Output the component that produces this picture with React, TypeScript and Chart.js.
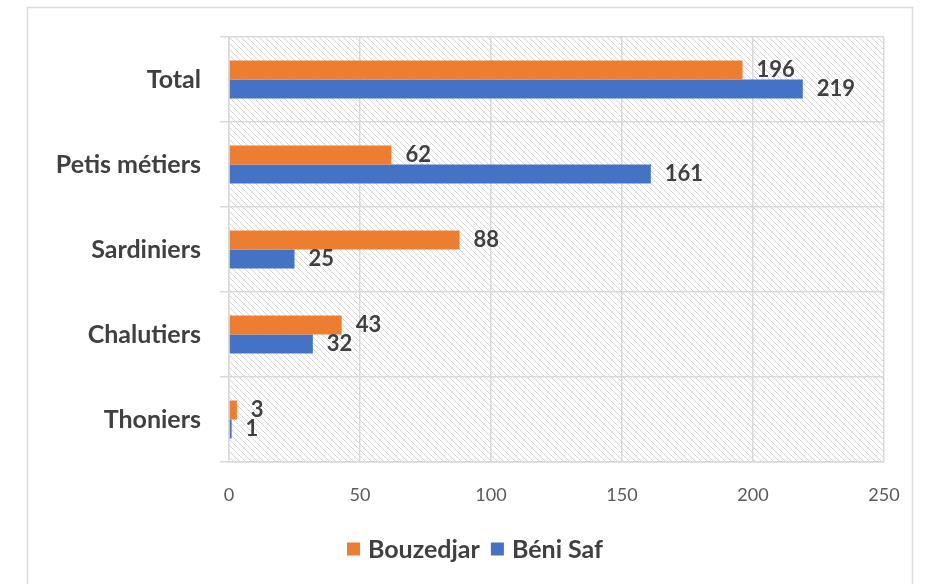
import React, { useEffect, useRef } from "react";
import { Chart, registerables } from "chart.js";
Chart.register(...registerables);

const categories = ["Total", "Petis métiers", "Sardiniers", "Chalutiers", "Thoniers"];
const seriesNames = ["Bouzedjar", "Béni Saf"];
const bouzedjar = [196, 62, 88, 43, 3];
const beniSaf = [219, 161, 25, 32, 1];
const xMin = 0;
const xMax = 250;
const xStep = 50;

const ORANGE = "#ED7D31";
const BLUE = "#4472C4";
const GRID = "#d9d9d9";
const FONT = "Lato, 'Open Sans', sans-serif";

function makePattern(ctx: CanvasRenderingContext2D) {
  const c = document.createElement("canvas");
  c.width = 6;
  c.height = 6;
  const p = c.getContext("2d")!;
  p.fillStyle = "#ffffff";
  p.fillRect(0, 0, 6, 6);
  p.strokeStyle = "#d6d6d6";
  p.lineWidth = 1;
  p.beginPath();
  p.moveTo(-1, -1);
  p.lineTo(7, 7);
  p.moveTo(-1, 5);
  p.lineTo(1, 7);
  p.moveTo(5, -1);
  p.lineTo(7, 1);
  p.stroke();
  return ctx.createPattern(c, "repeat")!;
}

const hatchPlugin = {
  id: "hatch",
  beforeDraw(chart: any) {
    const { ctx, chartArea } = chart;
    ctx.save();
    ctx.strokeStyle = "#dcdcdc";
    ctx.lineWidth = 1.5;
    ctx.strokeRect(27.5, 7.5, 885, 600);
    ctx.fillStyle = makePattern(ctx);
    ctx.fillRect(chartArea.left, chartArea.top, chartArea.right - chartArea.left, chartArea.bottom - chartArea.top);
    ctx.restore();
  },
};

const labelPlugin = {
  id: "valueLabels",
  afterDatasetsDraw(chart: any) {
    const { ctx } = chart;
    ctx.save();
    ctx.font = `bold 22px ${FONT}`;
    ctx.fillStyle = "#404040";
    ctx.textAlign = "left";
    ctx.textBaseline = "middle";
    chart.data.datasets.forEach((ds: any, di: number) => {
      const meta = chart.getDatasetMeta(di);
      meta.data.forEach((el: any, i: number) => {
        ctx.fillText(String(ds.data[i]), el.x + 14, el.y);
      });
    });
    ctx.restore();
  },
};

const legendPlugin = {
  id: "customLegend",
  afterDraw(chart: any) {
    const { ctx } = chart;
    ctx.save();
    ctx.font = `bold 25px ${FONT}`;
    ctx.textBaseline = "middle";
    ctx.textAlign = "left";
    const box = 13;
    const gap = 8;
    const itemGap = 11;
    const items = chart.data.datasets.map((ds: any) => ({
      label: ds.label,
      color: ds.backgroundColor,
      w: box + gap + ctx.measureText(ds.label).width,
    }));
    const total = items.reduce((s: number, it: any) => s + it.w, 0) + itemGap * (items.length - 1);
    let x = 475 - total / 2;
    const y = 549;
    items.forEach((it: any) => {
      ctx.fillStyle = it.color;
      ctx.fillRect(x, y - box / 2, box, box);
      ctx.fillStyle = "#404040";
      ctx.fillText(it.label, x + box + gap, y + 1);
      x += it.w + itemGap;
    });
    ctx.restore();
  },
};

export default function App() {
  const ref = useRef<HTMLCanvasElement>(null);
  useEffect(() => {
    const chart = new Chart(ref.current!, {
      type: "bar",
      data: {
        labels: categories,
        datasets: [
          { label: seriesNames[0], data: bouzedjar, backgroundColor: ORANGE, categoryPercentage: 0.447, barPercentage: 1 },
          { label: seriesNames[1], data: beniSaf, backgroundColor: BLUE, categoryPercentage: 0.447, barPercentage: 1 },
        ],
      },
      options: {
        indexAxis: "y",
        responsive: false,
        animation: false,
        layout: { padding: { top: 37, right: 47, left: 0, bottom: 0 } },
        plugins: { legend: { display: false }, tooltip: { enabled: false } },
        scales: {
          x: {
            min: xMin,
            max: xMax,
            ticks: { stepSize: xStep, color: "#595959", font: { family: FONT, size: 18 }, padding: 22 },
            grid: { color: GRID, lineWidth: 1.5, drawTicks: false },
            border: { color: GRID, width: 1.5 },
            afterFit: (s: any) => {
              s.height = 122;
            },
          },
          y: {
            ticks: { color: "#404040", font: { family: FONT, size: 25, weight: "bold" }, padding: 19 },
            grid: { color: GRID, lineWidth: 1.5, tickLength: 9, offset: true },
            border: { color: GRID, width: 1.5 },
            afterFit: (s: any) => {
              s.width = 229;
            },
          },
        },
      },
      plugins: [hatchPlugin, labelPlugin, legendPlugin],
    } as any);
    return () => chart.destroy();
  }, []);
  return (
    <div style={{ position: "absolute", left: 0, top: 0, width: 931, height: 584, background: "#fff" }}>
      <canvas ref={ref} width={931} height={584} style={{ display: "block" }} />
    </div>
  );
}
